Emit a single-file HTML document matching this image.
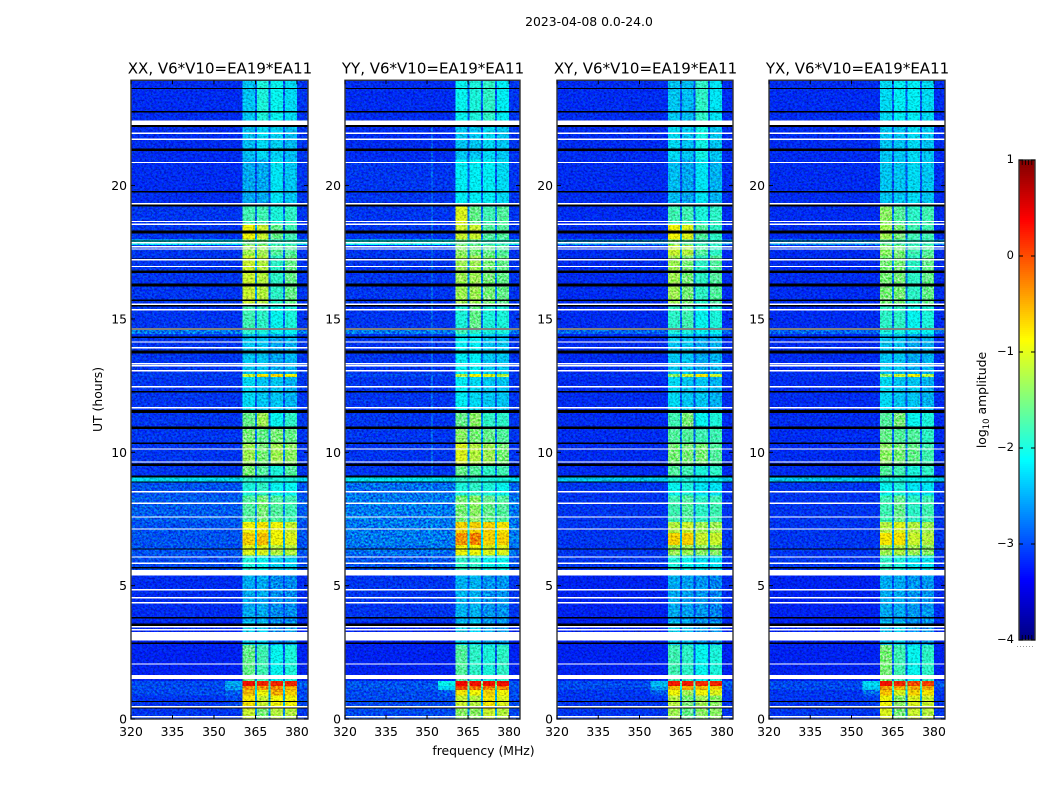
<!DOCTYPE html>
<html>
<head>
<meta charset="utf-8">
<title>2023-04-08 amplitude waterfall</title>
<style>
html,body{margin:0;padding:0;background:#fff;}
#figure{display:block;width:1050px;height:800px;}
text{font-family:"DejaVu Sans","Liberation Sans",sans-serif;fill:#000;}
</style>
</head>
<body>
<svg id="figure" xmlns="http://www.w3.org/2000/svg" width="1050" height="800" viewBox="0 0 1050 800">
  <defs>
    <filter id="speckle" x="0" y="0" width="100%" height="100%" color-interpolation-filters="sRGB">
      <feTurbulence type="fractalNoise" baseFrequency="0.42 0.5" numOctaves="2" seed="7"/>
      <feColorMatrix type="matrix" values="3 0 0 0 -1  3 0 0 0 -1  3 0 0 0 -1  0 0 0 0 1"/>
    </filter>
    <filter id="speckle-dark" x="0" y="0" width="100%" height="100%" color-interpolation-filters="sRGB">
      <feTurbulence type="fractalNoise" baseFrequency="0.45 0.55" numOctaves="2" seed="23"/>
      <feColorMatrix type="matrix" values="0.9 0 0 0 0.5  0.9 0 0 0 0.5  0.9 0 0 0 0.5  0 0 0 0 1"/>
    </filter>
  </defs>
  <rect width="1050" height="800" fill="#fff"/>
  <text x="589" y="26" font-size="12.4" text-anchor="middle">2023-04-08 0.0-24.0</text>
  <text transform="translate(102 399.5) rotate(-90)" font-size="12.4" text-anchor="middle">UT (hours)</text>
  <text x="483.5" y="755" font-size="12.4" text-anchor="middle">frequency (MHz)</text>
  <text transform="translate(986 400) rotate(-90)" font-size="12.4" text-anchor="middle">log<tspan font-size="8.5" dy="3">10</tspan><tspan dy="-3"> amplitude</tspan></text>
  <g id="panels"></g>
  <g id="colorbar"></g>
</svg>
<script>
// ---- axis labels ----
var panelTitles = ['XX, V6*V10=EA19*EA11', 'YY, V6*V10=EA19*EA11', 'XY, V6*V10=EA19*EA11', 'YX, V6*V10=EA19*EA11'];
var freqTicks = [320, 335, 350, 365, 380];
var hourTicks = [0, 5, 10, 15, 20];
var colorTicks = [1, 0, -1, -2, -3, -4];
var freqRange = [320, 384];
var hourRange = [0, 23.95];
var colorRange = [-4, 1];

// ---- frequency bands (MHz): left background, right background, four bright blocks, right edge ----
var bandEdges = [320, 354, 360.4, 364.8, 365.5, 369.7, 370.4, 374.9, 375.6, 380, 384];

// ---- UT row edges (hours) ----
var rowEdges = [0, 0.4, 0.9, 1.1, 1.25, 1.45, 2.8, 3.65, 5.5, 6.15, 6.55, 7, 7.4, 8.4, 8.9, 9.1, 9.55, 10.35, 10.95, 11.55, 12.85, 12.95, 14.45, 14.6, 15.55, 17.4, 17.8, 18, 18.6, 19.3, 21, 22.4, 24];

// ---- log10 amplitude per row: bgLeft, bgRight, block1, block2, block3, block4, right ----
var levelsXX = [
[-3.1,-3.1,-1.1,-1.5,-1.2,-1.2,-3.1],[-3.1,-3.0,-0.8,-1.1,-0.9,-0.9,-3.0],[-3.0,-2.9,-0.6,-0.9,-0.5,-0.7,-3.0],
[-3.0,-2.6,-0.4,-0.4,-0.3,-0.5,-3.0],[-3.0,-2.5,0.3,0.2,0.2,0.2,-2.9],[-3.2,-3.2,-1.6,-1.8,-2.1,-2.0,-3.2],
[-3.2,-3.2,-2.3,-2.3,-2.65,-2.55,-3.2],[-3.15,-3.15,-2.5,-2.5,-2.65,-2.65,-3.15],[-3.0,-3.0,-2.0,-2.1,-2.3,-2.3,-3.0],
[-2.95,-2.95,-1.0,-1.0,-1.2,-1.2,-2.95],[-2.95,-2.95,-0.7,-0.6,-0.9,-1.0,-2.95],[-2.95,-2.95,-0.9,-0.8,-0.9,-1.1,-2.95],
[-2.9,-2.9,-1.7,-1.5,-1.7,-1.8,-2.9],[-2.95,-2.95,-2.0,-1.9,-2.1,-2.1,-2.95],[-2.25,-2.25,-1.9,-2.0,-2.0,-2.0,-2.25],
[-3.1,-3.1,-1.5,-1.7,-2.0,-1.7,-3.1],[-3.1,-3.1,-1.3,-1.5,-1.3,-1.4,-3.1],[-3.1,-3.1,-1.5,-1.6,-1.5,-1.6,-3.1],
[-3.1,-3.1,-1.6,-1.3,-2.1,-1.9,-3.1],[-3.1,-3.1,-2.25,-2.35,-2.35,-2.45,-3.1],[-3.05,-3.05,-1.1,-0.8,-0.7,-0.9,-3.05],
[-3.1,-3.1,-2.35,-2.35,-2.5,-2.45,-3.1],[-2.75,-2.75,-1.9,-2.0,-2.1,-2.1,-2.75],[-3.1,-3.1,-1.8,-1.9,-2.1,-2.0,-3.1],
[-3.1,-3.1,-1.1,-1.2,-1.9,-1.6,-3.1],[-3.1,-3.1,-1.3,-1.3,-1.7,-1.7,-3.1],[-2.2,-2.2,-1.6,-1.6,-1.9,-1.9,-2.2],
[-3.1,-3.1,-0.9,-1.1,-1.6,-1.8,-3.1],[-3.1,-3.1,-1.8,-1.8,-2.0,-1.9,-3.1],[-3.15,-3.15,-2.5,-2.5,-2.2,-2.35,-3.1],
[-3.15,-3.15,-2.4,-2.25,-2.3,-2.4,-3.1],[-3.15,-3.15,-2.35,-2.0,-2.1,-2.25,-3.1]
];
var levelsYY = [
[-3.0,-3.0,-1.4,-1.4,-1.1,-1.2,-3.0],[-3.0,-3.0,-1.1,-1.2,-0.8,-1.0,-3.0],[-3.0,-2.9,-0.8,-0.9,-0.7,-0.9,-3.0],
[-2.95,-2.3,0.0,-0.2,-0.3,-0.3,-2.95],[-2.95,-2.1,0.35,0.3,0.3,0.3,-2.95],[-3.2,-3.2,-1.7,-1.9,-2.0,-1.9,-3.2],
[-3.2,-3.2,-2.3,-2.3,-2.5,-2.55,-3.2],[-3.1,-3.1,-2.45,-2.45,-2.6,-2.6,-3.1],[-2.95,-2.95,-1.9,-1.9,-2.1,-2.1,-2.95],
[-2.8,-2.8,-0.9,-0.9,-1.0,-1.0,-2.8],[-2.75,-2.75,-0.4,-0.3,-0.7,-0.7,-2.75],[-2.75,-2.75,-0.7,-0.7,-0.7,-0.8,-2.75],
[-2.75,-2.75,-1.5,-1.4,-1.6,-1.7,-2.75],[-2.8,-2.8,-2.0,-1.9,-2.0,-2.1,-2.85],[-2.2,-2.2,-1.9,-1.9,-2.0,-2.0,-2.2],
[-3.1,-3.1,-1.6,-1.7,-1.9,-1.8,-3.1],[-3.1,-3.1,-1.0,-1.2,-1.3,-1.5,-3.1],[-3.1,-3.1,-1.4,-1.5,-1.6,-1.7,-3.1],
[-3.1,-3.1,-1.6,-1.4,-1.9,-1.9,-3.1],[-3.1,-3.1,-2.15,-2.25,-2.35,-2.35,-3.1],[-3.0,-3.0,-1.2,-0.9,-1.0,-1.2,-3.1],
[-3.1,-3.1,-2.15,-2.15,-2.35,-2.35,-3.1],[-2.75,-2.75,-1.8,-1.9,-2.0,-2.0,-2.75],[-3.1,-3.1,-2.0,-1.6,-2.0,-2.0,-3.1],
[-3.1,-3.1,-1.3,-1.3,-1.5,-1.6,-3.1],[-3.1,-3.1,-1.4,-1.5,-1.6,-1.7,-3.1],[-2.1,-2.1,-1.6,-1.7,-1.9,-1.9,-2.1],
[-3.1,-3.1,-1.1,-1.1,-1.7,-1.7,-3.1],[-3.1,-3.1,-1.0,-1.6,-1.8,-1.7,-3.1],[-3.1,-3.1,-2.15,-2.15,-2.15,-2.25,-3.1],
[-3.15,-3.15,-2.35,-2.35,-2.25,-2.35,-3.1],[-3.15,-3.15,-2.1,-2.0,-1.9,-2.15,-3.1]
];
var levelsXY = [
[-3.1,-3.1,-1.3,-1.6,-1.4,-1.4,-3.1],[-3.1,-3.1,-1.2,-1.5,-1.3,-1.4,-3.1],[-3.1,-2.9,-0.9,-1.3,-0.9,-1.0,-3.1],
[-3.0,-2.6,-0.6,-0.5,-0.6,-0.7,-3.0],[-3.0,-2.4,0.25,0.25,0.15,0.2,-2.9],[-3.2,-3.2,-1.8,-1.9,-2.1,-2.0,-3.2],
[-3.2,-3.2,-2.3,-2.4,-2.6,-2.6,-3.2],[-3.2,-3.2,-2.5,-2.55,-2.6,-2.7,-3.15],[-3.1,-3.1,-2.0,-2.1,-2.2,-2.2,-3.1],
[-3.1,-3.1,-1.3,-1.3,-1.4,-1.4,-3.1],[-3.1,-3.1,-0.7,-0.7,-1.1,-1.1,-3.1],[-3.1,-3.1,-1.2,-1.1,-1.3,-1.3,-3.1],
[-3.1,-3.1,-1.8,-1.7,-1.9,-1.8,-3.1],[-3.1,-3.1,-2.1,-2.0,-2.2,-2.2,-3.1],[-2.35,-2.35,-2.0,-2.0,-2.1,-2.1,-2.35],
[-3.15,-3.15,-1.7,-1.8,-2.0,-1.9,-3.15],[-3.15,-3.15,-1.5,-1.5,-1.5,-1.7,-3.15],[-3.15,-3.15,-1.7,-1.7,-1.8,-1.8,-3.15],
[-3.15,-3.15,-1.8,-1.5,-2.1,-2.0,-3.15],[-3.15,-3.15,-2.25,-2.35,-2.35,-2.45,-3.15],[-3.1,-3.1,-1.4,-1.1,-0.8,-1.1,-3.1],
[-3.15,-3.15,-2.35,-2.35,-2.5,-2.45,-3.15],[-2.85,-2.85,-2.0,-2.0,-2.1,-2.1,-2.85],[-3.15,-3.15,-1.9,-1.8,-2.1,-2.0,-3.15],
[-3.15,-3.15,-1.3,-1.5,-1.9,-1.7,-3.15],[-3.15,-3.15,-1.1,-1.2,-1.7,-1.9,-3.15],[-2.6,-2.6,-1.5,-1.7,-1.9,-1.9,-2.6],
[-3.15,-3.15,-0.9,-1.0,-1.7,-1.9,-3.15],[-3.15,-3.15,-1.8,-1.8,-2.0,-1.9,-3.15],[-3.15,-3.15,-2.4,-2.5,-2.2,-2.45,-3.15],
[-3.15,-3.15,-2.25,-2.35,-2.05,-2.35,-3.15],[-3.15,-3.15,-2.35,-2.4,-1.9,-2.2,-3.15]
];
var levelsYX = [
[-3.1,-3.1,-1.0,-1.5,-1.1,-1.2,-3.1],[-3.1,-3.05,-0.9,-1.4,-1.0,-1.1,-3.1],[-3.1,-2.8,-0.6,-1.0,-0.7,-0.8,-3.1],
[-3.0,-2.35,-0.4,-0.5,-0.5,-0.5,-3.0],[-3.0,-2.25,0.3,0.2,0.0,0.05,-2.9],[-3.2,-3.2,-1.5,-1.8,-2.1,-1.9,-3.2],
[-3.2,-3.2,-2.4,-2.3,-2.6,-2.6,-3.2],[-3.2,-3.2,-2.5,-2.5,-2.6,-2.6,-3.15],[-3.1,-3.1,-1.9,-2.0,-2.2,-2.2,-3.1],
[-3.1,-3.1,-1.3,-1.2,-1.3,-1.4,-3.1],[-3.1,-3.1,-0.8,-0.8,-1.1,-1.2,-3.1],[-3.1,-3.1,-1.2,-1.0,-1.2,-1.3,-3.1],
[-3.1,-3.1,-1.8,-1.6,-1.9,-1.8,-3.1],[-3.1,-3.1,-2.1,-2.0,-2.2,-2.2,-3.1],[-2.35,-2.35,-2.0,-2.0,-2.1,-2.1,-2.35],
[-3.15,-3.15,-1.7,-1.8,-2.0,-1.9,-3.15],[-3.15,-3.15,-1.4,-1.5,-1.6,-1.8,-3.15],[-3.15,-3.15,-1.6,-1.7,-1.7,-1.9,-3.15],
[-3.15,-3.15,-1.7,-1.5,-2.1,-2.0,-3.15],[-3.15,-3.15,-2.25,-2.35,-2.35,-2.45,-3.15],[-3.1,-3.1,-1.4,-1.1,-0.9,-1.2,-3.1],
[-3.15,-3.15,-2.35,-2.35,-2.5,-2.45,-3.15],[-2.85,-2.85,-2.0,-2.0,-2.1,-2.1,-2.85],[-3.15,-3.15,-1.9,-1.9,-2.1,-2.0,-3.15],
[-3.15,-3.15,-1.5,-1.5,-1.9,-1.6,-3.15],[-3.15,-3.15,-1.4,-1.5,-1.8,-1.7,-3.15],[-2.6,-2.6,-1.7,-1.8,-1.9,-1.9,-2.6],
[-3.15,-3.15,-1.3,-1.5,-1.8,-1.8,-3.15],[-3.15,-3.15,-1.4,-1.7,-1.9,-1.8,-3.15],[-3.15,-3.15,-2.35,-2.35,-2.25,-2.35,-3.15],
[-3.15,-3.15,-2.35,-2.35,-2.25,-2.35,-3.15],[-3.15,-3.15,-2.25,-2.15,-2.15,-2.25,-3.15]
];
var panelLevels = [levelsXX, levelsYY, levelsXY, levelsYX];

// ---- narrow-band spur seen in the YY panel: MHz, start hour, end hour per panel ----
var spurFreq = [null, 351.6, null, null];
var spurHourStart = [0, 5.4, 0, 0];
var spurHourEnd = [0, 22.3, 0, 0];
var spurLevel = -2.3;

// ---- flagged rows (start/end hours): no data = white, zero amplitude = black ----
var whiteRowStart = [0.06,0.43,1.5,2.04,2.94,3.32,3.44,4.34,4.52,4.82,5.38,5.82,6.05,7.10,7.55,8.06,8.49,9.61,10.10,11.64,12.43,13.03,13.22,13.30,13.89,14.11,14.60,15.32,15.52,16.94,17.19,17.60,17.68,17.83,18.53,18.63,19.30,20.84,21.71,21.94,22.27];
var whiteRowEnd = [0.12,0.48,1.65,2.09,3.26,3.37,3.49,4.39,4.57,4.87,5.59,5.87,6.10,7.15,7.60,8.11,8.54,9.66,10.15,11.69,12.48,13.08,13.27,13.35,13.94,14.16,14.65,15.37,15.57,16.99,17.24,17.65,17.73,17.88,18.58,18.68,19.35,20.89,21.76,21.99,22.44];
var blackRowStart = [0.39,0.63,2.82,3.49,3.77,5.64,6.35,8.86,9.05,9.48,10.32,10.87,11.47,12.25,13.71,14.29,14.58,15.46,15.68,16.22,16.72,17.22,17.91,18.21,19.22,19.75,21.30,22.20,22.75,23.62];
var blackRowEnd = [0.43,0.67,2.87,3.59,3.82,5.69,6.39,8.91,9.13,9.58,10.36,10.97,11.59,12.30,13.81,14.34,14.66,15.58,15.73,16.32,16.82,17.27,17.95,18.31,19.30,19.79,21.40,22.28,22.79,23.66];

var panelLefts = [131, 345, 557, 769];
var panelWidths = [177, 175, 176, 176];
var plotBottom = 719, pxPerHour = 26.67;
var cbLeft = 1019, cbWidth = 16, cbTop = 160, cbHeight = 480;

var NS = 'http://www.w3.org/2000/svg';
function mk(tag, parent, attrs) {
  var el = document.createElementNS(NS, tag);
  for (var k in attrs) el.setAttribute(k, attrs[k]);
  parent.appendChild(el);
  return el;
}
function clamp01(v) { return Math.max(0, Math.min(1, v)); }
function jet(level) {
  var t = clamp01((level - colorRange[0]) / (colorRange[1] - colorRange[0]));
  var r = clamp01(Math.min(4 * t - 1.5, -4 * t + 4.5));
  var g = clamp01(Math.min(4 * t - 0.5, -4 * t + 3.5));
  var b = clamp01(Math.min(4 * t + 0.5, -4 * t + 2.5));
  return 'rgb(' + Math.round(r * 255) + ',' + Math.round(g * 255) + ',' + Math.round(b * 255) + ')';
}
function yScale(h) { return plotBottom - (h - hourRange[0]) * pxPerHour; }
function xScaler(left, width) {
  return function (f) { return left + (f - freqRange[0]) / (freqRange[1] - freqRange[0]) * width; };
}
// seven levels expand to ten bands: bg, bg, b1, gap, b2, gap, b3, gap, b4, right
function bandLevel(row, i) {
  var map = [0, 1, 2, -1, 3, -1, 4, -1, 5, 6];
  if (map[i] >= 0) return row[map[i]];
  return row[1] * 0.75 + Math.min(row[map[i - 1]], row[map[i + 1]]) * 0.25;
}

var panelsGroup = document.getElementById('panels');
panelTitles.forEach(function (title, p) {
  var left = panelLefts[p], width = panelWidths[p];
  var x = xScaler(left, width);
  var top = yScale(hourRange[1]);
  var g = mk('g', panelsGroup, {});
  
  

  var clip = mk('clipPath', g, { id: 'clip' + p });
  mk('rect', clip, { x: left, y: top, width: width, height: plotBottom - top });

  var heat = mk('g', g, { 'clip-path': 'url(#clip' + p + ')', 'shape-rendering': 'crispEdges', style: 'isolation:isolate' });
  
  

  panelLevels[p].forEach(function (row, r) {
    for (var b = 0; b < bandEdges.length - 1; b++) {
      var x0 = x(bandEdges[b]), x1 = x(bandEdges[b + 1]);
      var y0 = yScale(rowEdges[r + 1]), y1 = yScale(rowEdges[r]);
      var cell = mk('rect', heat, { x: x0, y: y0, width: x1 - x0 + 0.5, height: y1 - y0 + 0.5, fill: jet(bandLevel(row, b)) });
      
      
    }
  });

  if (spurFreq[p] !== null) {
    var spur = mk('rect', heat, { x: x(spurFreq[p]), y: yScale(spurHourEnd[p]), width: 1, height: (spurHourEnd[p] - spurHourStart[p]) * pxPerHour, fill: jet(spurLevel), opacity: '0.6' });
    
    
  }

  var noise = mk('rect', heat, { x: left, y: top, width: width, height: plotBottom - top, filter: 'url(#speckle)', opacity: '0.5', style: 'mix-blend-mode:overlay' });
  
  
  var noiseDark = mk('rect', heat, { x: left, y: top, width: width, height: plotBottom - top, filter: 'url(#speckle-dark)', style: 'mix-blend-mode:multiply' });
  
  

  blackRowStart.forEach(function (s, i) {
    var bar = mk('rect', heat, { x: left, y: yScale(blackRowEnd[i]), width: width, height: (blackRowEnd[i] - s) * pxPerHour, fill: '#000' });
    
    
  });
  whiteRowStart.forEach(function (s, i) {
    var bar = mk('rect', heat, { x: left, y: yScale(whiteRowEnd[i]), width: width, height: (whiteRowEnd[i] - s) * pxPerHour, fill: '#fff' });
    
    
  });

  var frame = mk('rect', g, { x: left, y: top, width: width, height: plotBottom - top, fill: 'none', stroke: '#333', 'stroke-width': '1.4' });
  
  

  var t = mk('text', g, { x: left + width / 2 + 0.5, y: 73.5, 'font-size': '15', 'text-anchor': 'middle' });
  
  
  t.textContent = title;

  freqTicks.forEach(function (f) {
    var xt = x(f);
    var tickB = mk('line', g, { x1: xt, x2: xt, y1: plotBottom, y2: plotBottom - 4, stroke: '#000', 'stroke-width': '1' });
    
    
    var tickT = mk('line', g, { x1: xt, x2: xt, y1: top, y2: top + 4, stroke: '#000', 'stroke-width': '1' });
    
    
    var lab = mk('text', g, { x: xt, y: 736, 'font-size': '12.4', 'text-anchor': 'middle' });
    
    
    lab.textContent = f;
  });
  hourTicks.forEach(function (h) {
    var yt = yScale(h);
    var tickL = mk('line', g, { x1: left, x2: left + 4, y1: yt, y2: yt, stroke: '#000', 'stroke-width': '1' });
    
    
    var tickR = mk('line', g, { x1: left + width, x2: left + width - 4, y1: yt, y2: yt, stroke: '#000', 'stroke-width': '1' });
    
    
    var lab = mk('text', g, { x: left - 4, y: yt + 4.5, 'font-size': '12.4', 'text-anchor': 'end' });
    
    
    lab.textContent = h;
  });
});

// ---- colorbar ----
var cb = document.getElementById('colorbar');
function cbY(v) { return cbTop + (colorRange[1] - v) / (colorRange[1] - colorRange[0]) * cbHeight; }
for (var i = 0; i < 240; i++) {
  var lv = colorRange[1] - (i + 0.5) / 240 * (colorRange[1] - colorRange[0]);
  var seg = mk('rect', cb, { x: cbLeft, y: cbTop + i * 2, width: cbWidth, height: 2.3, fill: jet(lv), 'shape-rendering': 'crispEdges' });
  
  
}
var cbFrame = mk('rect', cb, { x: cbLeft, y: cbTop, width: cbWidth, height: cbHeight, fill: 'none', stroke: '#333', 'stroke-width': '1.4' });


colorTicks.forEach(function (v) {
  var y = cbY(v);
  var l1 = mk('line', cb, { x1: cbLeft, x2: cbLeft + 4, y1: y, y2: y, stroke: '#000', 'stroke-width': '1' });
  
  
  var l2 = mk('line', cb, { x1: cbLeft + cbWidth, x2: cbLeft + cbWidth - 4, y1: y, y2: y, stroke: '#000', 'stroke-width': '1' });
  
  
  var lab = mk('text', cb, { x: cbLeft - 5, y: y + 3, 'font-size': '11.5', 'text-anchor': 'end' });
  
  
  lab.textContent = String(v).replace('-', '\u2212');
});
[cbTop, cbTop + cbHeight].forEach(function (edge, n) {
  for (var j = 1; j <= 4; j++) {
    var m = mk('line', cb, { x1: cbLeft + j * cbWidth / 5, x2: cbLeft + j * cbWidth / 5, y1: edge, y2: n ? edge - 5 : edge + 5, stroke: '#000', 'stroke-width': '0.8' });
    
    
  }
});
var dots = mk('line', cb, { x1: 1017, x2: 1035, y1: 646.5, y2: 646.5, stroke: '#999', 'stroke-width': '1', 'stroke-dasharray': '1 2' });


</script>
</body>
</html>
